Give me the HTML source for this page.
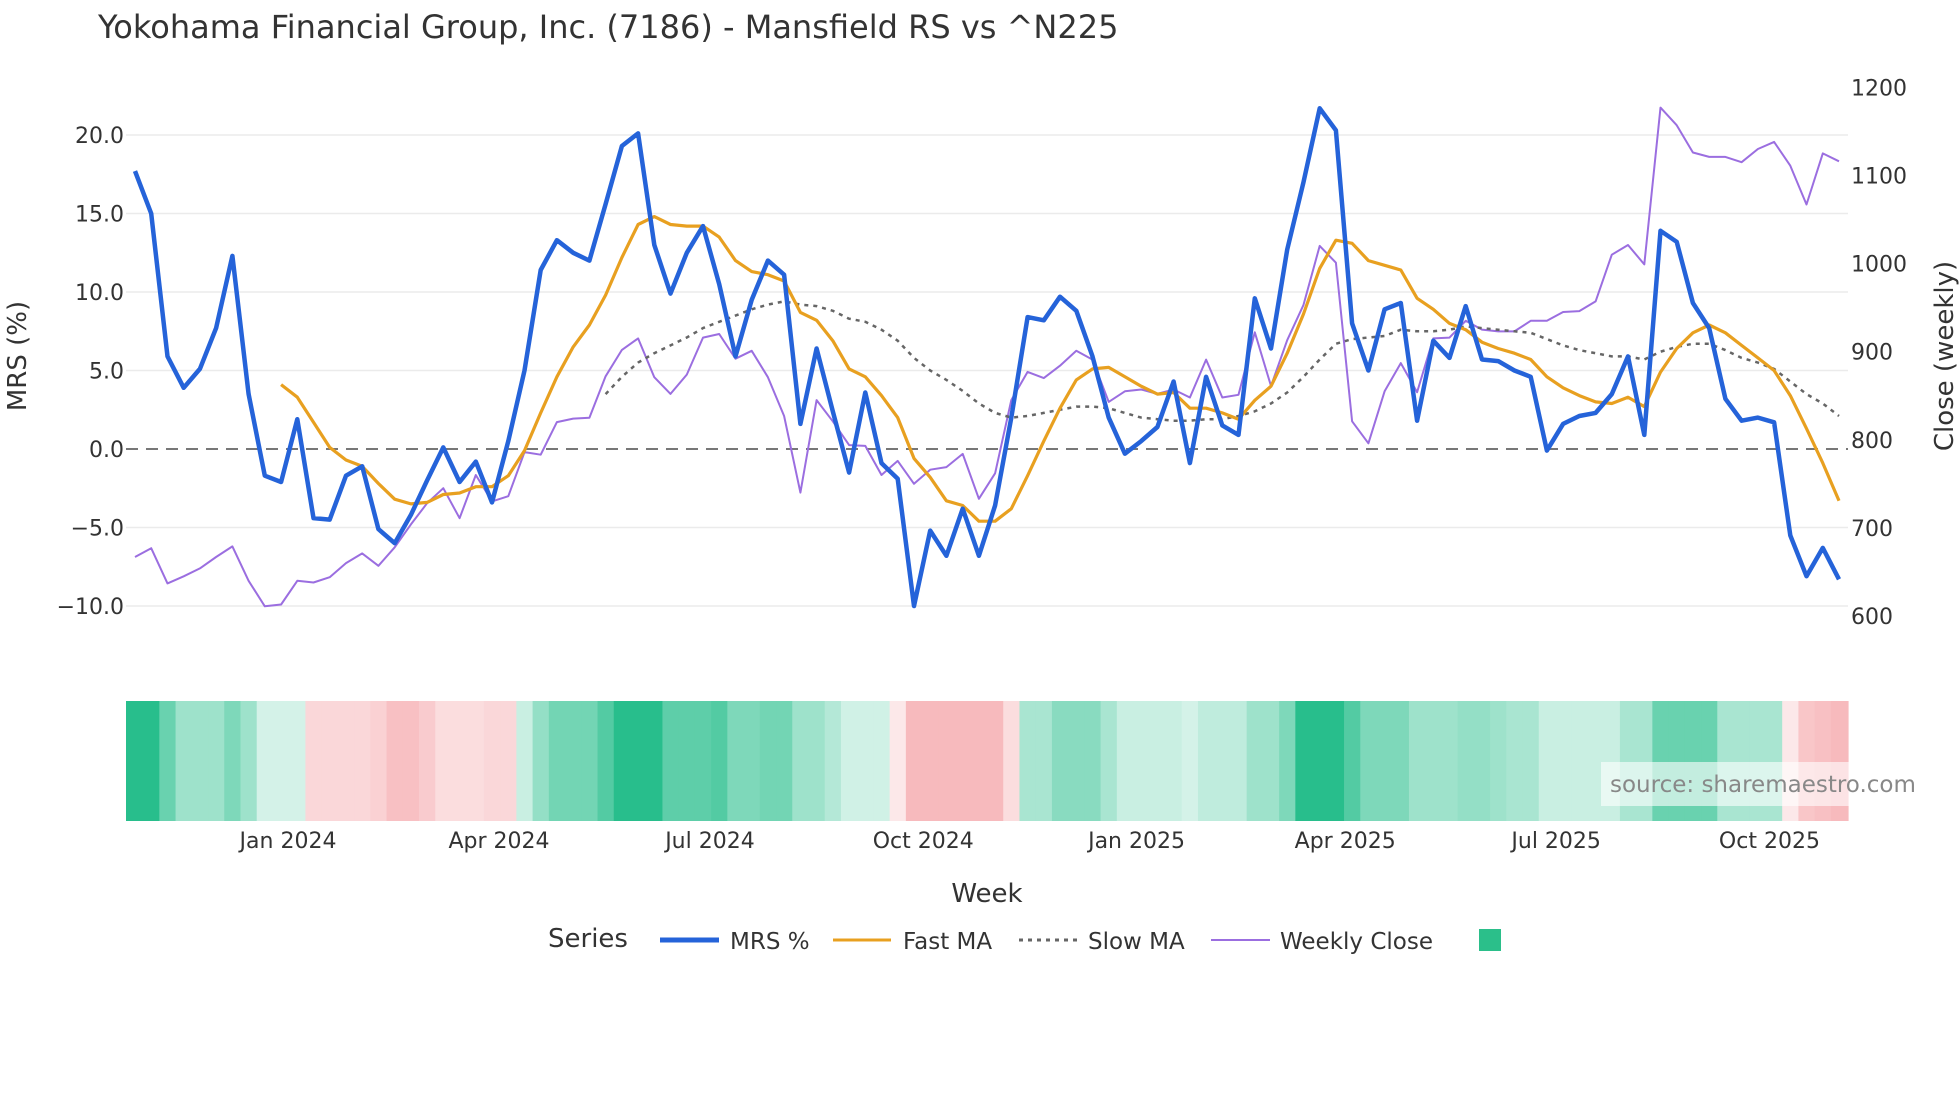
<!DOCTYPE html>
<html><head><meta charset="utf-8"><style>
body{margin:0;background:#fff;font-family:"Liberation Sans","DejaVu Sans",sans-serif;}
svg text{font-family:"DejaVu Sans","Liberation Sans",sans-serif;}
</style></head><body>
<svg id="c" width="1960" height="1102" viewBox="0 0 1960 1102">
<text x="98" y="38" font-size="32" fill="#333">Yokohama Financial Group, Inc. (7186) - Mansfield RS vs ^N225</text>
<g id="grid"></g><g id="heat"></g><g id="lines"></g><g id="axes"></g>
<text x="0" y="0" transform="translate(26,356) rotate(-90)" text-anchor="middle" font-size="26" fill="#333">MRS (%)</text>
<text x="0" y="0" transform="translate(1953,356) rotate(-90)" text-anchor="middle" font-size="26" fill="#333">Close (weekly)</text>
<text x="987" y="902" text-anchor="middle" font-size="26" fill="#333">Week</text>
<rect x="1601" y="762" width="336" height="44" fill="#fff" fill-opacity="0.6"/>
<text x="1610" y="792" font-size="23" fill="#888">source: sharemaestro.com</text>
<g>
<text x="548" y="947" font-size="26" fill="#333">Series</text>
<line x1="660" y1="940" x2="719" y2="940" stroke="#2563d9" stroke-width="5"/>
<text x="730" y="949" font-size="23" fill="#333">MRS %</text>
<line x1="833" y1="940" x2="891" y2="940" stroke="#e8a020" stroke-width="3"/>
<text x="903" y="949" font-size="23" fill="#333">Fast MA</text>
<line x1="1019" y1="940" x2="1078" y2="940" stroke="#666" stroke-width="3" stroke-dasharray="4,5"/>
<text x="1088" y="949" font-size="23" fill="#333">Slow MA</text>
<line x1="1211" y1="940" x2="1270" y2="940" stroke="#9b6ee0" stroke-width="2"/>
<text x="1280" y="949" font-size="23" fill="#333">Weekly Close</text>
<rect x="1479" y="929" width="22" height="22" fill="#2bbf8a"/>
</g>
</svg>
<script>
const mrs=[17.7,15.0,5.9,3.9,5.1,7.7,12.3,3.5,-1.7,-2.1,1.9,-4.4,-4.5,-1.7,-1.1,-5.1,-6.0,-4.2,-2.0,0.1,-2.1,-0.8,-3.4,0.5,5.0,11.4,13.3,12.5,12.0,15.6,19.3,20.1,13.0,9.9,12.5,14.2,10.5,5.9,9.5,12.0,11.1,1.6,6.4,2.4,-1.5,3.6,-0.9,-1.9,-10.0,-5.2,-6.8,-3.8,-6.8,-3.6,2.0,8.4,8.2,9.7,8.8,5.9,2.0,-0.3,0.5,1.4,4.3,-0.9,4.6,1.5,0.9,9.6,6.4,12.7,17.0,21.7,20.3,8.0,5.0,8.9,9.3,1.8,6.9,5.8,9.1,5.7,5.6,5.0,4.6,-0.1,1.6,2.1,2.3,3.5,5.9,0.9,13.9,13.2,9.3,7.7,3.2,1.8,2.0,1.7,-5.5,-8.1,-6.3,-8.3];
const closeW=[667,677,637,645,654,667,679,640,611,613,640,638,644,660,671,657,678,704,728,745,711,760,730,736,786,783,820,824,825,872,902,915,871,852,874,916,920,892,901,871,827,740,845,821,794,793,760,776,750,766,769,784,733,762,845,877,870,884,901,891,843,855,857,852,857,848,891,848,851,922,861,913,953,1020,1001,821,796,855,887,854,915,916,935,925,923,923,935,935,945,946,957,1010,1021,999,1177,1157,1126,1121,1121,1115,1130,1138,1111,1067,1125,1116];
const fastStart=9;
const fastMA=[4.1,3.3,1.7,0.1,-0.7,-1.1,-2.2,-3.2,-3.5,-3.4,-2.9,-2.8,-2.4,-2.4,-1.7,-0.1,2.3,4.6,6.5,7.9,9.8,12.2,14.3,14.8,14.3,14.2,14.2,13.5,12.0,11.3,11.1,10.7,8.7,8.2,6.9,5.1,4.6,3.4,2.0,-0.6,-1.8,-3.3,-3.6,-4.6,-4.6,-3.8,-1.7,0.5,2.6,4.4,5.1,5.2,4.6,4.0,3.5,3.6,2.6,2.6,2.3,1.9,3.1,4.0,6.1,8.6,11.5,13.3,13.1,12.0,11.7,11.4,9.6,8.9,8.0,7.6,6.8,6.4,6.1,5.7,4.6,3.9,3.4,3.0,2.9,3.3,2.7,4.9,6.4,7.4,7.9,7.4,6.6,5.8,5.0,3.4,1.3,-0.9,-3.3];
const slowStart=29;
const slowMA=[3.5,4.6,5.5,6.1,6.6,7.1,7.7,8.1,8.5,8.9,9.2,9.4,9.2,9.1,8.8,8.3,8.1,7.6,6.9,5.8,5.0,4.4,3.7,2.9,2.3,2.0,2.1,2.3,2.5,2.7,2.7,2.6,2.3,2.0,1.9,1.8,1.8,1.9,1.9,2.1,2.4,2.9,3.6,4.6,5.7,6.7,7.0,7.1,7.2,7.6,7.5,7.5,7.6,7.8,7.7,7.6,7.5,7.4,7.0,6.6,6.3,6.1,5.9,5.9,5.7,6.2,6.5,6.7,6.7,6.3,5.8,5.5,5.1,4.3,3.5,2.9,2.1];
const heat=[1,1,0.7,0.45,0.45,0.45,0.6,0.45,0.2,0.2,0.2,-0.35,-0.35,-0.35,-0.35,-0.4,-0.55,-0.55,-0.45,-0.3,-0.3,-0.3,-0.35,-0.35,0.25,0.5,0.65,0.65,0.65,0.8,1,1,1,0.75,0.75,0.75,0.8,0.6,0.6,0.65,0.65,0.45,0.45,0.35,0.22,0.22,0.22,-0.2,-0.6,-0.6,-0.6,-0.6,-0.6,-0.6,-0.3,0.4,0.4,0.55,0.55,0.55,0.4,0.25,0.25,0.25,0.25,0.2,0.3,0.3,0.3,0.45,0.45,0.6,1,1,1,0.8,0.6,0.6,0.6,0.45,0.45,0.45,0.5,0.5,0.45,0.4,0.4,0.25,0.25,0.25,0.25,0.25,0.4,0.4,0.7,0.7,0.7,0.7,0.4,0.4,0.4,0.4,-0.2,-0.5,-0.55,-0.6];
const leftTicks=[-10,-5,0,5,10,15,20];
const rightTicks=[600,700,800,900,1000,1100,1200];
const xTickLabels=["Jan 2024","Apr 2024","Jul 2024","Oct 2024","Jan 2025","Apr 2025","Jul 2025","Oct 2025"];
const xTickDates=["2024-01-01","2024-04-01","2024-07-01","2024-10-01","2025-01-01","2025-04-01","2025-07-01","2025-10-01"];
const firstWeek="2023-10-27";

const NS="http://www.w3.org/2000/svg";
const PL=126,PR=1848;
const n=mrs.length;
const xs=i=>135+i*(1839-135)/(n-1);
const yL=v=>135+(20-v)*471/30;
const yR=v=>616-(v-600)*528.7/600;
function mk(tag,attrs,parent){const e=document.createElementNS(NS,tag);for(const k in attrs)e.setAttribute(k,attrs[k]);document.getElementById(parent).appendChild(e);return e;}
leftTicks.forEach(t=>{
 const g=mk('line',{x1:PL,x2:PR,y1:yL(t),y2:yL(t),stroke:t===0?'#777':'#ebebeb','stroke-width':t===0?2:1.5,'stroke-dasharray':t===0?'12,8':'none'},'grid');
 
 
 const tx=mk('text',{x:124,y:yL(t)+8,'text-anchor':'end','font-size':22,fill:'#333'},'axes');tx.textContent=t.toFixed(1).replace('-','−');
 
 
});
rightTicks.forEach(t=>{
 const tx=mk('text',{x:1851,y:yR(t)+8,'font-size':22,fill:'#333'},'axes');tx.textContent=t;
 
 
});
const d0=new Date(firstWeek).getTime();
xTickLabels.forEach((l,k)=>{
 const idx=(new Date(xTickDates[k]).getTime()-d0)/(7*864e5);
 const tx=mk('text',{x:xs(idx),y:848,'text-anchor':'middle','font-size':22,fill:'#333'},'axes');tx.textContent=l;
 
 
});
const w=(1839-135)/(n-1);
function col(v){const g=[40,190,140],r=[242,140,145];let c,t;
 if(v>=0){c=g;t=Math.min(v,1);}else{c=r;t=Math.min(-v,1);}
 return `rgb(${Math.round(255+(c[0]-255)*t)},${Math.round(255+(c[1]-255)*t)},${Math.round(255+(c[2]-255)*t)})`;}
heat.forEach((v,i)=>{
 let x0=Math.max(PL,xs(i)-w/2),x1=Math.min(PR,xs(i)+w/2);
 if(i===0)x0=PL;if(i===n-1)x1=PR;
 const r=mk('rect',{x:x0,y:701,width:x1-x0+0.6,height:120,fill:col(v)},'heat');
 
 
});
function path(arr,start,yf,attrs,name){
 const d=arr.map((v,k)=>(k?'L':'M')+xs(start+k).toFixed(1)+','+yf(v).toFixed(1)).join('');
 const p=mk('path',Object.assign({d:d,fill:'none','stroke-linejoin':'round'},attrs),'lines');
 
 
}
path(closeW,0,yR,{stroke:'#9b6ee0','stroke-width':2},'weekly-close-line');
path(slowMA,slowStart,yL,{stroke:'#666','stroke-width':2.5,'stroke-dasharray':'4,5'},'slow-ma-line');
path(fastMA,fastStart,yL,{stroke:'#e8a020','stroke-width':3.2},'fast-ma-line');
path(mrs,0,yL,{stroke:'#2563d9','stroke-width':4.5},'mrs-line');
</script>
</body></html>
